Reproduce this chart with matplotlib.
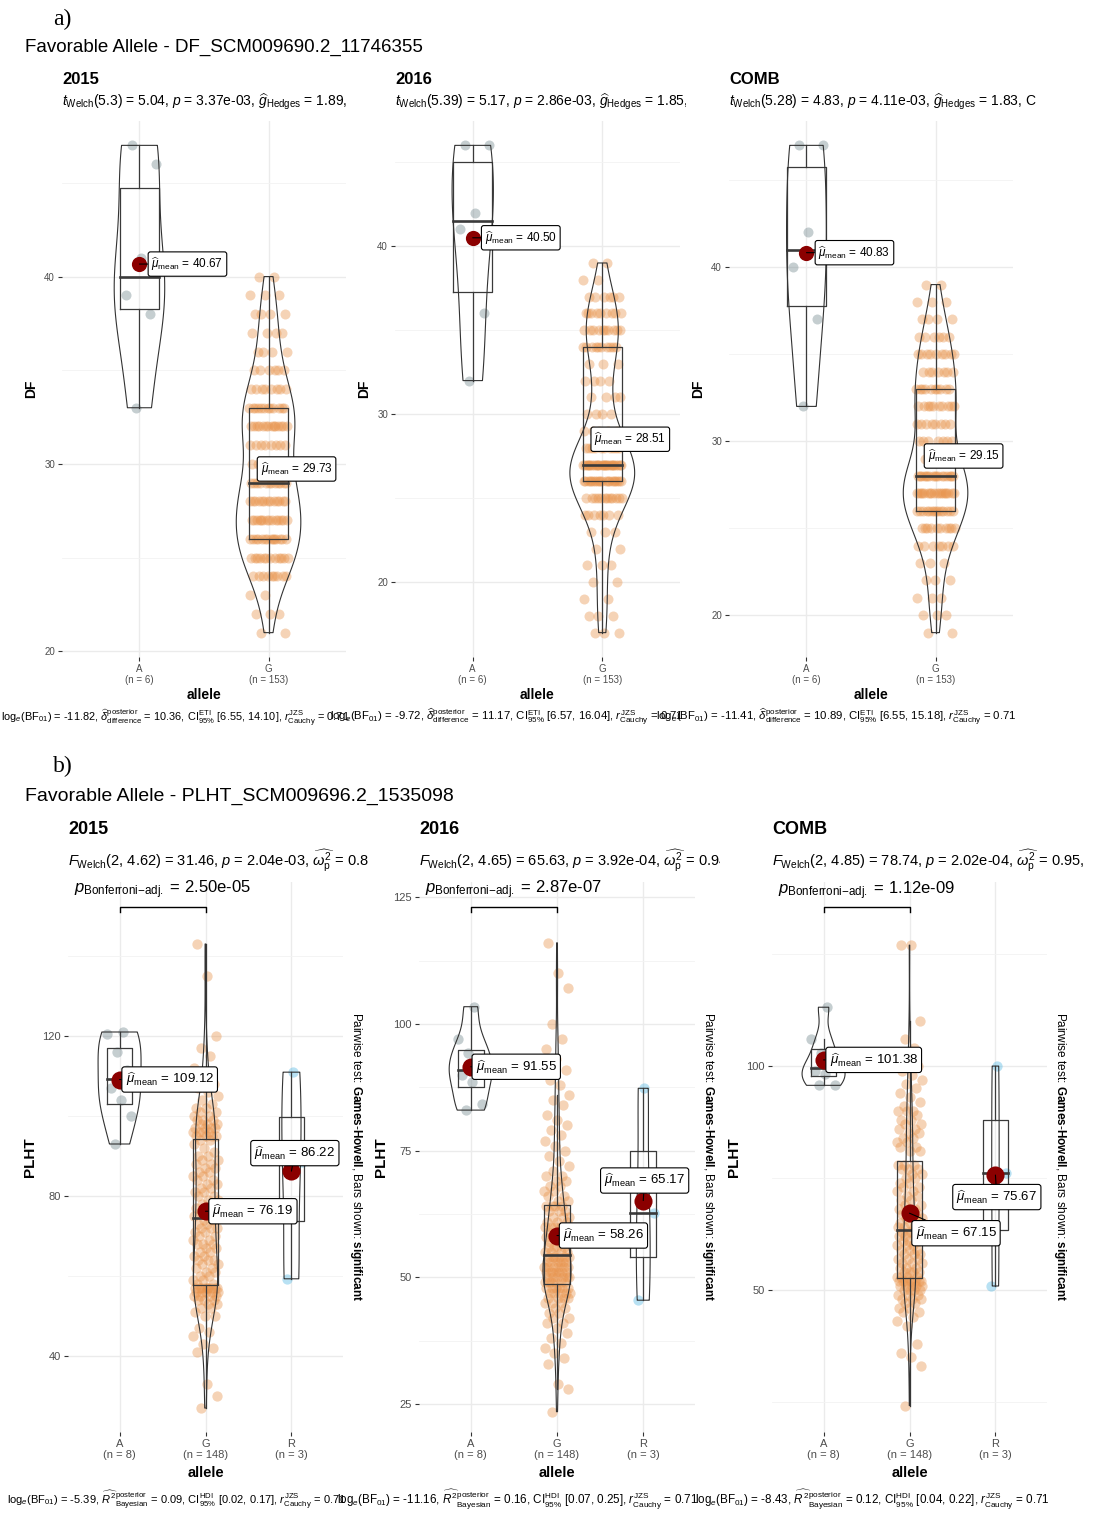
import numpy as np
import matplotlib
matplotlib.use("Agg")
import matplotlib.pyplot as plt
from matplotlib.transforms import Bbox, TransformedBbox

plt.rcParams['font.family'] = ['Liberation Sans', 'DejaVu Sans']
plt.rcParams['mathtext.fontset'] = 'custom'
plt.rcParams['mathtext.rm'] = 'Liberation Sans'
plt.rcParams['mathtext.it'] = 'Liberation Sans:italic'
plt.rcParams['mathtext.bf'] = 'Liberation Sans:bold'

# ---- DF (days to flowering): A allele plants, G allele as day -> count ----
df_A_2015 = [47, 46, 41, 39, 38, 33]
df_G_2015_days = list(range(21, 41))
df_G_2015_n = [2, 3, 2, 9, 12, 14, 14, 13, 12, 7, 8, 14, 12, 8, 6, 4, 4, 4, 3, 2]

df_A_2016 = [46, 46, 42, 41, 36, 32]
df_G_2016_days = list(range(17, 40))
df_G_2016_n = [3, 3, 2, 2, 3, 2, 3, 7, 12, 20, 27, 10, 5, 4, 4, 4, 3, 10, 10, 9, 6, 2, 2]

df_A_comb = [47, 47, 42, 40, 37, 32]
df_G_comb_days = list(range(19, 40))
df_G_comb_n = [2, 3, 3, 3, 3, 7, 10, 14, 18, 17, 7, 7, 8, 10, 10, 7, 9, 6, 4, 3, 2]

# ---- PLHT (plant height) ----
plht_A_2015 = [93, 100, 104, 107, 111.5, 116, 120.5, 121]
plht_R_2015 = [59.3, 88.4, 110.96]
plht_G_2015 = [
    27, 30, 33, 41, 42, 43, 45, 46, 47, 50, 50, 51, 52, 52, 53, 53, 54, 54, 54,
    55, 55, 55, 55, 56, 56, 56, 56, 56, 57, 57, 57, 57, 57, 57, 57, 57, 57,
    58, 58, 59, 59, 60, 60, 61, 61, 62, 62, 63, 63, 64, 64, 64, 65, 65, 66, 66,
    67, 67, 68, 68, 68, 69, 69, 70, 70, 71, 71, 72, 72, 72, 73, 73, 74, 74,
    75, 75, 76, 76, 77, 77, 78, 78, 79, 79, 80, 80, 81, 81, 82, 82, 83, 83,
    84, 84, 85, 85, 86, 86, 87, 87, 88, 88, 89, 89, 90, 90, 91, 92, 93, 94, 94,
    95, 95, 95, 95, 96, 96, 96, 96, 97, 97, 97, 97, 98, 98, 98, 99, 99, 99,
    100, 100, 101, 101, 102, 102, 103, 104, 105, 106, 107, 108, 110, 112, 115,
    117, 120, 135, 143]

plht_A_2016 = [83.0, 84.2, 88.6, 90.0, 92.0, 94.2, 97.0, 103.4]
plht_R_2016 = [45.5, 62.7, 87.3]
plht_G_2016 = [
    23.5, 28, 29, 33, 34, 35, 36, 37, 38, 39, 40, 41, 41, 42, 42, 43, 43, 44, 44,
    45, 45, 45, 46, 46, 46, 46, 47, 47, 47, 47, 47, 48, 48, 48, 48, 48, 48,
    49, 49, 49, 49, 49, 49, 50, 50, 50, 50, 50, 50, 51, 51, 51, 51, 51, 51, 51,
    52, 52, 52, 52, 52, 52, 53, 53, 53, 53, 53, 53, 54, 54, 54, 54, 54, 54,
    55, 55, 55, 55, 56, 56, 56, 56, 57, 57, 57, 57, 58, 58, 58, 58, 59, 59, 59,
    59, 60, 60, 60, 60, 61, 61, 61, 62, 62, 62, 63, 63, 63, 64, 64, 64, 64,
    65, 65, 66, 66, 67, 67, 68, 68, 69, 69, 70, 70, 71, 72, 73, 74, 75, 76, 77,
    78, 79, 80, 81, 82, 84, 85, 86, 88, 89, 91, 93, 95, 97, 100, 107, 110, 116]

plht_A_comb = [95.7, 95.8, 98.3, 99.0, 100.0, 103.0, 106.1, 113.14]
plht_R_comb = [50.9, 76.1, 100.0]
plht_G_comb = [
    24.2, 33, 35, 36, 38, 42, 43, 44, 45, 45, 46, 46, 47, 47, 48, 48, 48, 49, 49,
    49, 50, 50, 50, 50, 51, 51, 51, 51, 51, 52, 52, 52, 52, 52, 52, 52, 52,
    53, 53, 53, 53, 54, 54, 54, 54, 55, 55, 55, 56, 56, 56, 57, 57, 57, 58, 58,
    58, 59, 59, 59, 60, 60, 60, 61, 61, 61, 62, 62, 62, 62, 63, 63, 63, 63,
    64, 64, 64, 65, 65, 65, 66, 66, 66, 67, 67, 67, 68, 68, 68, 69, 69, 70, 70,
    71, 71, 72, 72, 73, 73, 74, 74, 75, 75, 76, 76, 77, 77, 77, 78, 78, 78,
    81, 81, 82, 82, 83, 83, 84, 84, 85, 85, 86, 86, 87, 87, 88, 88, 89, 90, 90,
    90, 91, 92, 93, 94, 95, 96, 97, 98, 99, 100, 101, 103, 104, 106, 110, 127, 127]

years = ["2015", "2016", "COMB"]

sub_a = [
    r"$t_{\mathrm{Welch}}$(5.3) = 5.04, $p$ = 3.37e-03, $\widehat{g}_{\mathrm{Hedges}}$ = 1.89, CI",
    r"$t_{\mathrm{Welch}}$(5.39) = 5.17, $p$ = 2.86e-03, $\widehat{g}_{\mathrm{Hedges}}$ = 1.85, CI",
    r"$t_{\mathrm{Welch}}$(5.28) = 4.83, $p$ = 4.11e-03, $\widehat{g}_{\mathrm{Hedges}}$ = 1.83, C",
]
cap_a = [
    r"log$_{e}$(BF$_{01}$) = -11.82, $\widehat{\delta}_{\mathrm{difference}}^{\mathrm{posterior}}$ = 10.36, CI$_{95\%}^{\mathrm{ETI}}$ [6.55, 14.10], $r_{\mathrm{Cauchy}}^{\mathrm{JZS}}$ = 0.71",
    r"log$_{e}$(BF$_{01}$) = -9.72, $\widehat{\delta}_{\mathrm{difference}}^{\mathrm{posterior}}$ = 11.17, CI$_{95\%}^{\mathrm{ETI}}$ [6.57, 16.04], $r_{\mathrm{Cauchy}}^{\mathrm{JZS}}$ = 0.71",
    r"log$_{e}$(BF$_{01}$) = -11.41, $\widehat{\delta}_{\mathrm{difference}}^{\mathrm{posterior}}$ = 10.89, CI$_{95\%}^{\mathrm{ETI}}$ [6.55, 15.18], $r_{\mathrm{Cauchy}}^{\mathrm{JZS}}$ = 0.71",
]
sub_b = [
    r"$F_{\mathrm{Welch}}$(2, 4.62) = 31.46, $p$ = 2.04e-03, $\widehat{\omega_{\mathrm{p}}^{2}}$ = 0.89",
    r"$F_{\mathrm{Welch}}$(2, 4.65) = 65.63, $p$ = 3.92e-04, $\widehat{\omega_{\mathrm{p}}^{2}}$ = 0.94",
    r"$F_{\mathrm{Welch}}$(2, 4.85) = 78.74, $p$ = 2.02e-04, $\widehat{\omega_{\mathrm{p}}^{2}}$ = 0.95,",
]
cap_b = [
    r"log$_{e}$(BF$_{01}$) = -5.39, $\widehat{R^{2}}_{\mathrm{Bayesian}}^{\mathrm{posterior}}$ = 0.09, CI$_{95\%}^{\mathrm{HDI}}$ [0.02, 0.17], $r_{\mathrm{Cauchy}}^{\mathrm{JZS}}$ = 0.71",
    r"log$_{e}$(BF$_{01}$) = -11.16, $\widehat{R^{2}}_{\mathrm{Bayesian}}^{\mathrm{posterior}}$ = 0.16, CI$_{95\%}^{\mathrm{HDI}}$ [0.07, 0.25], $r_{\mathrm{Cauchy}}^{\mathrm{JZS}}$ = 0.71",
    r"log$_{e}$(BF$_{01}$) = -8.43, $\widehat{R^{2}}_{\mathrm{Bayesian}}^{\mathrm{posterior}}$ = 0.12, CI$_{95\%}^{\mathrm{HDI}}$ [0.04, 0.22], $r_{\mathrm{Cauchy}}^{\mathrm{JZS}}$ = 0.71",
]
p_bonf = ["2.50e-05", "2.87e-07", "1.12e-09"]

col_A, col_G, col_R = "#6F858B", "#E8924A", "#4FB6E3"

W, H = 1094, 1513
fig = plt.figure(figsize=(W / 100, H / 100), dpi=100)


def axes_px(l, t, r, b):
    return fig.add_axes([l / W, 1 - b / H, (r - l) / W, (b - t) / H])


def ftext(x, y, s, **kw):
    return fig.text(x / W, 1 - y / H, s, **kw)


def clipped(t, x0, x1):
    box = Bbox.from_extents(x0 / W, 0, x1 / W, 1)
    t.set_clip_box(TransformedBbox(box, fig.transFigure))
    t.set_clip_on(True)


def nrd0(x):
    sd = x.std(ddof=1)
    q75, q25 = np.percentile(x, [75, 25])
    lo = min(sd, (q75 - q25) / 1.34)
    if lo <= 0:
        lo = sd
    return 0.9 * lo * len(x) ** -0.2


def density(x):
    bw = nrd0(x)
    grid = np.linspace(x.min(), x.max(), 512)
    z = (grid[:, None] - x[None, :]) / bw
    d = np.exp(-0.5 * z ** 2).sum(1) / (len(x) * bw * np.sqrt(2 * np.pi))
    return grid, d


def draw_panel(ax, names, groups, colors, ylim, major, minor, dot_s, mean_s,
               lab_off, lab_size, tick_size):
    groups = [np.asarray(g, float) for g in groups]
    dens = [density(g) for g in groups]
    dmax = max(d.max() for _, d in dens)
    for i, (g, col, (grid, d)) in enumerate(zip(groups, colors, dens), start=1):
        n = len(g)
        jit = 0.15 * (2 * ((np.arange(n) * 0.618034 + 0.31) % 1) - 1)
        ax.scatter(i + jit, g, s=dot_s, color=col, alpha=0.4, lw=0, zorder=2)
        # box with whiskers (1.5 IQR)
        q1, med, q3 = np.percentile(g, [25, 50, 75])
        iqr = q3 - q1
        lo = g[g >= q1 - 1.5 * iqr].min()
        hi = g[g <= q3 + 1.5 * iqr].max()
        bc = "#3A3A3A"
        ax.plot([i - 0.15, i + 0.15, i + 0.15, i - 0.15, i - 0.15],
                [q1, q1, q3, q3, q1], color=bc, lw=0.9, zorder=3)
        ax.plot([i, i], [q3, hi], color=bc, lw=0.9, zorder=3)
        ax.plot([i, i], [lo, q1], color=bc, lw=0.9, zorder=3)
        ax.plot([i - 0.15, i + 0.15], [med, med], color=bc, lw=1.9, zorder=3)
        # violin, area scaled across groups
        hw = 0.25 * d / dmax
        ax.fill_betweenx(grid, i - hw, i + hw, facecolor="none",
                         edgecolor="#333333", lw=0.8, zorder=4)
        # mean and its label
        m = g.mean()
        ax.scatter([i], [m], s=mean_s, color="#8B0000", lw=0, zorder=5)
        dx, dy = lab_off[i - 1]
        ax.annotate(rf"$\widehat{{\mu}}_{{\mathrm{{mean}}}}$ = {m:.2f}",
                    xy=(i, m), xytext=(dx, -dy), textcoords="offset pixels",
                    ha="left", va="center", fontsize=lab_size, zorder=6,
                    bbox=dict(boxstyle="round,pad=0.28,rounding_size=0.2",
                              fc="white", ec="black", lw=0.8),
                    arrowprops=dict(arrowstyle="-", color="black", lw=0.8,
                                    shrinkA=0, shrinkB=0))
    ax.set_xlim(0.4, len(groups) + 0.6)
    ax.set_ylim(*ylim)
    ax.set_xticks(range(1, len(groups) + 1))
    ax.set_xticklabels([f"{nm}\n(n = {len(g)})" for nm, g in zip(names, groups)],
                       linespacing=1.15)
    ax.set_yticks(major)
    ax.set_yticks(minor, minor=True)
    ax.grid(which="major", color="#EBEBEB", lw=1.0)
    ax.grid(which="minor", axis="y", color="#F3F3F3", lw=0.6)
    ax.set_axisbelow(True)
    for sp in ax.spines.values():
        sp.set_visible(False)
    ax.tick_params(which="major", length=3, width=0.8, color="#333333",
                   labelcolor="#4D4D4D", labelsize=tick_size, pad=2)
    ax.tick_params(which="minor", length=0)


def pad_lim(vals):
    lo, hi = min(vals), max(vals)
    r = hi - lo
    return lo - 0.05 * r, hi + 0.05 * r


# ---------------- part a: DF ----------------
ftext(53, 25, "a)", fontsize=17, family="Liberation Serif")
ftext(25, 52, "Favorable Allele - DF_SCM009690.2_11746355", fontsize=13.5)

df_groups = [
    (df_A_2015, np.repeat(df_G_2015_days, df_G_2015_n)),
    (df_A_2016, np.repeat(df_G_2016_days, df_G_2016_n)),
    (df_A_comb, np.repeat(df_G_comb_days, df_G_comb_n)),
]
a_left = [62, 395, 729]
a_right = [346, 680, 1013]
a_clip = [351, 686, 1040]
a_cap_size = [7.9, 8.2, 8.2]
for k in range(3):
    ax = axes_px(a_left[k], 121, a_right[k], 657)
    gA, gG = df_groups[k]
    draw_panel(ax, ["A", "G"], [gA, gG], [col_A, col_G],
               pad_lim(list(gA) + list(gG)), [20, 30, 40], [25, 35, 45],
               52, 120, [(12, 0), (-8, 0)], 8.5, 7)
    ftext(a_left[k], 84, years[k], fontsize=12, fontweight="bold")
    t = ftext(a_left[k], 106, sub_a[k], fontsize=10)
    clipped(t, a_left[k] - 5, a_clip[k])
    ftext(a_right[k] + 4, 721, cap_a[k], fontsize=a_cap_size[k], ha="right")
    ftext((a_left[k] + a_right[k]) / 2, 695, "allele", fontsize=10,
          fontweight="bold", ha="center", va="center")
    ftext(a_left[k] - 31, 389, "DF", fontsize=10, fontweight="bold",
          rotation=90, ha="center", va="center")

# ---------------- part b: PLHT ----------------
ftext(53, 772, "b)", fontsize=17, family="Liberation Serif")
ftext(25, 801, "Favorable Allele - PLHT_SCM009696.2_1535098", fontsize=14)

plht_groups = [
    (plht_A_2015, plht_G_2015, plht_R_2015),
    (plht_A_2016, plht_G_2016, plht_R_2016),
    (plht_A_comb, plht_G_comb, plht_R_comb),
]
b_left = [68, 419, 772]
b_right = [343, 695, 1047]
b_clip = [368, 720, 1094]
b_ylim = [(21.0, 158.5), (19.5, 128.0), (18.3, 141.1)]
b_major = [[40, 80, 120], [25, 50, 75, 100, 125], [50, 100]]
b_minor = [[60, 100, 140], [37.5, 62.5, 87.5, 112.5], [25, 75, 125]]
b_bracket = [152.25, 123.1, 135.5]
b_tick = [1.2, 1.0, 1.1]
b_lab = [
    [(6, 0), (7, 0), (-37, -18)],
    [(5, 0), (6, 0), (-39, -20)],
    [(6, 0), (6, 20), (-39, 22)],
]
b_cap_size = [8.0, 8.4, 8.4]
for k in range(3):
    ax = axes_px(b_left[k], 882, b_right[k], 1432)
    draw_panel(ax, ["A", "G", "R"], list(plht_groups[k]), [col_A, col_G, col_R],
               b_ylim[k], b_major[k], b_minor[k], 55, 170, b_lab[k], 9.5, 8)
    yb = b_bracket[k]
    ax.plot([1, 1, 2, 2], [yb - b_tick[k], yb, yb, yb - b_tick[k]],
            color="black", lw=1.0, clip_on=False)
    ax.annotate(rf"$p_{{\mathrm{{Bonferroni{{-}}adj.}}}}$ = {p_bonf[k]}",
                xy=(1.5, yb), xytext=(0, 4), textcoords="offset points",
                ha="center", va="bottom", fontsize=12, annotation_clip=False)
    ftext(b_left[k], 834, years[k], fontsize=13, fontweight="bold")
    t = ftext(b_left[k], 866, sub_b[k], fontsize=10.5)
    clipped(t, b_left[k] - 5, b_clip[k])
    ftext(b_right[k] + 3, 1504, cap_b[k], fontsize=b_cap_size[k], ha="right")
    ftext((b_left[k] + b_right[k]) / 2, 1473, "allele", fontsize=10.5,
          fontweight="bold", ha="center", va="center")
    ftext(b_left[k] - 38, 1157, "PLHT", fontsize=11, fontweight="bold",
          rotation=90, ha="center", va="center")
    ftext(b_right[k] + 13, 1157,
          r"Pairwise test: $\mathbf{Games}$-$\mathbf{Howell}$, Bars shown: $\mathbf{significant}$",
          fontsize=8.5, rotation=270, ha="center", va="center")

fig.savefig("out.png", dpi=100, facecolor="white")
